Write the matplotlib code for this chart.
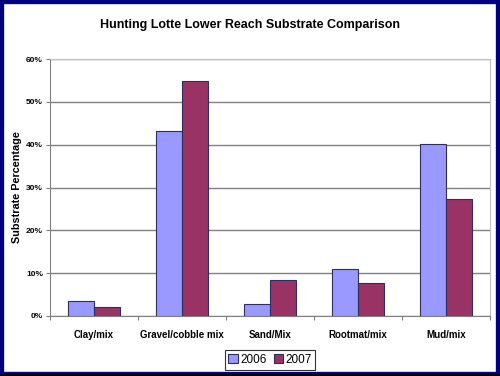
import matplotlib.pyplot as plt
import matplotlib.patches as patches
import numpy as np

categories = ["Clay/mix", "Gravel/cobble mix", "Sand/Mix", "Rootmat/mix", "Mud/mix"]
y2006 = [3.4, 43.3, 2.7, 10.9, 40.2]
y2007 = [2.0, 54.8, 8.5, 7.7, 27.4]
yticks = [0, 10, 20, 30, 40, 50, 60]

fig = plt.figure(figsize=(5, 3.76), dpi=100)
ax = fig.add_axes([50/500, 1-316/376, 440/500, 257/376])

x = np.arange(len(categories))
w = 0.29
ax.bar(x - w/2, y2006, w, color="#9999FF", edgecolor="#2e2e5e", linewidth=0.8, label="2006", zorder=3)
ax.bar(x + w/2, y2007, w, color="#993366", edgecolor="#2e2e5e", linewidth=0.8, label="2007", zorder=3)

ax.set_xlim(-0.5, len(categories) - 0.5)
ax.set_ylim(0, 60)
ax.set_yticks(yticks)
ax.set_yticklabels([f"{v}%" for v in yticks], fontsize=6, fontweight="bold", family="Liberation Sans")
ax.yaxis.grid(True, color="#808080", linewidth=1, zorder=0)
ax.set_xticks(np.arange(len(categories) + 1) - 0.5, minor=False)
ax.set_xticklabels([])
ax.set_xticks(x, minor=True)
ax.set_xticklabels(categories, minor=True, fontsize=7, fontweight="bold", family="Liberation Sans")
ax.tick_params(axis="x", which="minor", length=0, pad=10)
ax.tick_params(axis="x", which="major", length=3, color="#808080", direction="out")
ax.tick_params(axis="y", length=3, color="#808080", pad=2)
for s in ["top", "right"]:
    ax.spines[s].set_color("#c0c0c0")
for s in ["left", "bottom"]:
    ax.spines[s].set_color("#808080")
ax.set_ylabel("Substrate Percentage", fontsize=7.8, fontweight="bold", family="Liberation Sans", labelpad=3)

fig.text(0.5, 1-25/376, "Hunting Lotte Lower Reach Substrate Comparison", ha="center", va="center",
         fontsize=9, fontweight="bold", family="Liberation Sans")

leg = ax.legend(loc="center", bbox_to_anchor=(270/500, 1-360/376), bbox_transform=fig.transFigure,
                ncol=2, frameon=True, fancybox=False, handlelength=0.8, handleheight=0.8,
                handletextpad=0.2, columnspacing=0.6, borderpad=0.3, prop={"family": "Liberation Sans", "size": 8.5})
leg.get_frame().set_edgecolor("#000000")
leg.get_frame().set_linewidth(0.8)

fig.patches.append(patches.Rectangle((0, 0), 1, 1, transform=fig.transFigure, fill=False,
                                     edgecolor="#000080", linewidth=6, zorder=10))
fig.patches.append(patches.Rectangle((0, 0), 1, 2/376, transform=fig.transFigure, color="#000000", zorder=11))

fig.savefig("out.png", dpi=100)
